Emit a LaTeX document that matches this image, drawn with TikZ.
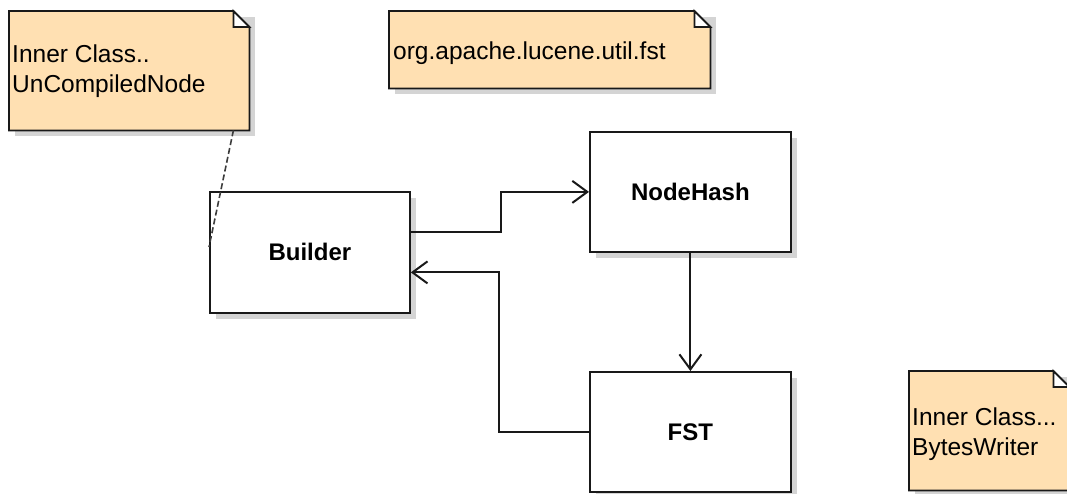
\documentclass[tikz,border=0pt]{standalone}
\usepackage{fontspec}
\setmainfont{Liberation Sans}
\usetikzlibrary{arrows.meta,calc,shadows}
\definecolor{notefill}{RGB}{255,224,178}
\definecolor{shadowgray}{RGB}{212,212,212}
\definecolor{linecol}{RGB}{25,25,25}
\begin{document}
\begin{tikzpicture}[x=1pt,y=-1pt,
  clsbox/.style={draw=linecol, line width=1.8pt, fill=white, rectangle, inner sep=0pt,
    minimum width=201pt, minimum height=120pt, anchor=north west,
    font=\fontsize{24}{28}\selectfont\bfseries,
    drop shadow={shadow xshift=6pt, shadow yshift=-6pt, fill=shadowgray, opacity=1}},
  notearea/.style={rectangle, draw=none, inner sep=0pt, anchor=north west},
  notetext/.style={inner sep=0pt, align=left, anchor=base west,
    font=\fontsize{24.5}{29.5}\selectfont},
  noteline/.style={draw=linecol, line width=1.8pt, line join=miter},
  assoc/.style={draw=linecol, line width=2pt, -{Straight Barb[length=15pt,width=22pt,line width=2pt]}},
  anchorline/.style={draw=linecol!85, line width=1.6pt, dash pattern=on 6pt off 3pt}
]
\useasboundingbox (0,0) rectangle (1067,493);

% ---- notes (areas) ----
\node[notearea, minimum width=240pt, minimum height=119pt] (note1) at (9,11) {};
\node[notearea, minimum width=321pt, minimum height=77pt] (note2) at (389,11) {};
\node[notearea, minimum width=160pt, minimum height=119pt] (note3) at (909,371) {};

\foreach \n in {note1,note2,note3}{
  \fill[shadowgray] ([shift={(6,6)}]\n.north west) -- ([shift={(6,6)}]\n.north east)
     -- ([shift={(6,6)}]\n.south east) -- ([shift={(6,6)}]\n.south west) -- cycle;
  \path[noteline, fill=notefill] (\n.north west) -- ([xshift=-16pt]\n.north east)
     -- ([yshift=-16pt]\n.north east) -- (\n.south east) -- (\n.south west) -- cycle;
  \path[noteline, fill=white] ([xshift=-16pt]\n.north east) -- ([xshift=-16pt,yshift=-16pt]\n.north east)
     -- ([yshift=-16pt]\n.north east) -- cycle;
}

\node[notetext] (note1text) at (12,92) {Inner Class..\\UnCompiledNode};
\node[notetext] (note2text) at (393,59) {org.apache.lucene.util.fst};
\node[notetext] (note3text) at (912,455) {Inner Class...\\BytesWriter};

% ---- classes ----
\node[clsbox, minimum width=200pt, minimum height=121pt] (builder) at (209,191) {Builder};
\node[clsbox] (nodehash) at (589,131) {NodeHash};
\node[clsbox] (fst) at (589,371) {FST};

% ---- connectors ----
\coordinate (noteanchor) at ([xshift=-16pt]note1.south east);
\coordinate (builderanchor) at ([yshift=-56pt]builder.north west);
\draw[anchorline] (noteanchor) -- (builderanchor);

\draw[assoc] ([yshift=20pt]builder.east) -- ++(90,0) |- (nodehash.west);
\draw[assoc] (fst.west) -- ++(-90,0) |- ([yshift=-20pt]builder.east);
\draw[assoc] (nodehash.south) -- (fst.north);
\end{tikzpicture}
\end{document}
